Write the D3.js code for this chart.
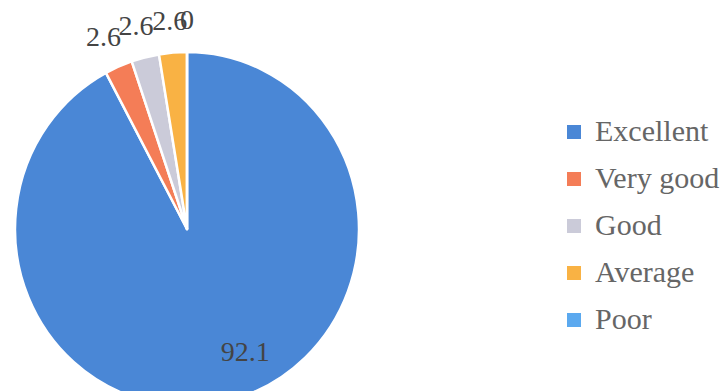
<!DOCTYPE html>
<html><head><meta charset="utf-8">
<script src="https://cdn.jsdelivr.net/npm/d3@7"></script>
<style>html,body{margin:0;padding:0;background:#fff;}svg{display:block;}</style>
</head><body>
<svg id="c" width="725" height="391"></svg>
<script>
const categories = ["Excellent", "Very good", "Good", "Average", "Poor"];
const values = [92.1, 2.6, 2.6, 2.6, 0];
const labels = ["92.1", "2.6", "2.6", "2.6", "0"];
const colors = ["#4a87d6", "#f47d57", "#cbcbd9", "#f9b244", "#5ba9ef"];

const svg = d3.select("#c");
const cx = 187, cy = 229, rx = 172, ry = 177;
const pie = d3.pie().sort(null).value(d => d.v);
const data = pie(categories.map((c, i) => ({c, v: values[i], l: labels[i], col: colors[i]})));
const arc = d3.arc().innerRadius(0).outerRadius(rx);

const g = svg.append("g").attr("transform", `translate(${cx},${cy}) scale(1,${ry/rx})`);
g.selectAll("path").data(data).join("path")
  .attr("d", arc).attr("fill", d => d.data.col)
  .attr("stroke", "#fff").attr("stroke-width", 2.5).attr("stroke-linejoin", "round");

const lg = svg.append("g").attr("transform", `translate(${cx},${cy})`);
const sy = ry / rx;
lg.selectAll("text").data(data).join("text")
  .attr("font-family", "'Liberation Serif', 'Times New Roman', serif")
  .attr("font-size", 28).attr("fill", "#444").attr("text-anchor", "middle")
  .each(function(d, i) {
    const mid = ((d.startAngle + d.endAngle) / 2) % (2 * Math.PI);
    let x, y;
    if (i === 0) {
      const a = mid - 0.21, R = 0.77 * rx;
      x = R * Math.sin(a); y = -R * Math.cos(a) * sy + 10;
    } else {
      const R = 210;
      x = R * Math.sin(mid); y = -R * Math.cos(mid) + 10;
    }
    d3.select(this).attr("x", x).attr("y", y).text(d.data.l);
  });

const leg = svg.append("g");
const ly = d3.scalePoint().domain(categories).range([132, 320]);
const rows = leg.selectAll("g").data(categories).join("g")
  .attr("transform", d => `translate(567,${ly(d)})`);
rows.append("rect").attr("x", 0).attr("y", -7).attr("width", 14).attr("height", 14)
  .attr("fill", (d, i) => colors[i]);
rows.append("text").attr("x", 28).attr("y", 9)
  .attr("font-family", "'Liberation Serif', 'Times New Roman', serif")
  .attr("font-size", 30).attr("fill", "#666").text(d => d);
</script>
</body></html>
